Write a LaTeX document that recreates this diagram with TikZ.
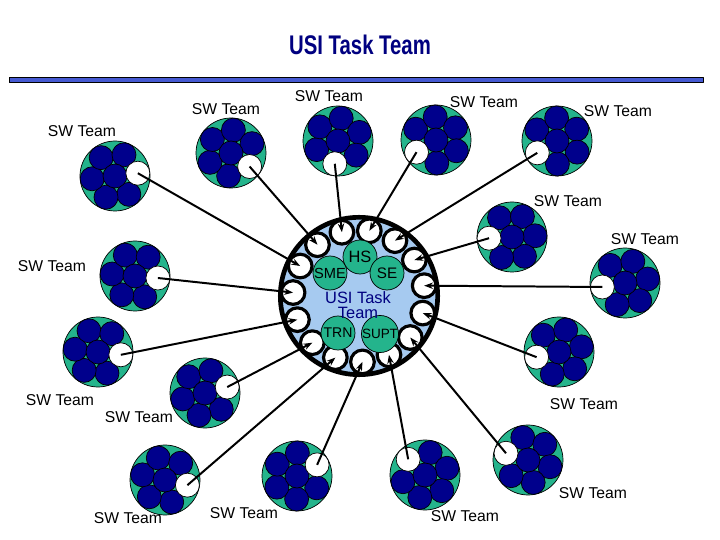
\documentclass[tikz,border=0pt]{standalone}
\usepackage{fontspec}
\setmainfont{Liberation Sans}
\usepackage{graphicx}
\usetikzlibrary{arrows.meta}
\definecolor{teamgreen}{RGB}{36,180,140}
\definecolor{teamblue}{RGB}{0,0,140}
\definecolor{hubblue}{RGB}{166,202,240}
\definecolor{titleblue}{RGB}{0,0,128}
\definecolor{barblue}{RGB}{70,90,210}
\tikzset{teamring/.style={draw=black,line width=0.6pt,fill=teamgreen},
  member/.style={draw=black,line width=0.6pt,fill=teamblue},
  slot/.style={circle,draw=black,line width=0.6pt,fill=white,minimum size=0.72cm,inner sep=0pt},
  hubslot/.style={circle,draw=black,line width=2.7pt,fill=white,minimum size=0.71cm,inner sep=0pt},
  unit/.style={circle,draw=black,line width=0.6pt,fill=teamgreen,minimum size=1.02cm,inner sep=0pt,font=\fontsize{12}{12}\selectfont},
  lbl/.style={inner sep=0pt,font=\fontsize{13.4}{14}\selectfont},
  link/.style={-{Stealth[length=7.5pt,width=5.5pt]},line width=1.7pt}}
% one SW team: name, x, y, angle of the empty place
\newcommand\swteam[4]{%
  \draw[teamring] (#2,#3) circle (35);
  \foreach \a in {60,120,...,300} \draw[member] ([shift={(#4+\a:23)}]#2,#3) circle (12);
  \draw[member] (#2,#3) circle (12);
  \node[slot] (#1) at ([shift={(#4:23)}]#2,#3) {};}

\begin{document}
\begin{tikzpicture}[x=0.03cm,y=-0.03cm,line join=round]
\useasboundingbox (0,0) rectangle (720,540);
% --- title
\node[text=titleblue,font=\fontsize{23}{23}\selectfont\bfseries,inner sep=0pt] (title) at (360,45) {\scalebox{0.755}[1]{USI Task Team}};
\draw[fill=barblue,line width=0.8pt] (9,77.8) rectangle (703,82.8);
% --- the SW teams round the hub
\swteam{t1}{115}{176}{-7}    \node[lbl] (l1) at (82,131) {SW Team};
\swteam{t2}{231}{153}{36}    \node[lbl] (l2) at (226,109) {SW Team};
\swteam{t3}{338}{141}{98}    \node[lbl] (l3) at (329,96) {SW Team};
\swteam{t4}{436}{140}{148}   \node[lbl] (l4) at (484,102) {SW Team};
\swteam{t5}{557}{141}{149}   \node[lbl] (l5) at (618,111) {SW Team};
\swteam{t6}{512}{237}{177}   \node[lbl] (l6) at (568,201) {SW Team};
\swteam{t7}{625}{283}{170}   \node[lbl] (l7) at (645,239) {SW Team};
\swteam{t8}{559}{352}{167}   \node[lbl] (l8) at (584,404) {SW Team};
\swteam{t9}{528}{460}{197}   \node[lbl] (l9) at (593,493) {SW Team};
\swteam{t10}{425}{475}{223}  \node[lbl] (l10) at (465,516) {SW Team};
\swteam{t11}{297}{476}{-29}  \node[lbl] (l11) at (244,513) {SW Team};
\swteam{t12}{165}{480}{13}   \node[lbl] (l12) at (128,518) {SW Team};
\swteam{t13}{205}{393}{-15}  \node[lbl] (l13) at (139,417) {SW Team};
\swteam{t14}{98}{352}{7}     \node[lbl] (l14) at (60,400) {SW Team};
\swteam{t15}{135}{276}{5}    \node[lbl] (l15) at (52,266) {SW Team};
% --- hub
\node[circle,draw=black,line width=4pt,fill=hubblue,minimum size=4.72cm,inner sep=0pt] (hub) at (359,296) {};
\foreach \i in {1,...,15} \node[hubslot] (h\i) at ([shift={(183+24*\i:66)}]hub.center) {};
\node[unit,font=\fontsize{14}{14}\selectfont] (hs) at (360,257) {HS};
\node[unit,font=\fontsize{12.5}{13}\selectfont] (sme) at (330,273) {SME};
\node[unit,font=\fontsize{13}{13}\selectfont] (se) at (387,273) {SE};
\node[unit] (trn) at (338,333) {TRN};
\node[unit,font=\fontsize{11.5}{12}\selectfont] (supt) at (380,334) {SUPT};
\node[text=titleblue,align=center,inner sep=0pt,font=\fontsize{14}{12.5}\selectfont] (usi) at (358,305) {USI Task\\Team};
% --- links from each team to its place on the hub
\foreach \i in {1,...,15} \draw[link] (t\i.center) -- (h\i.center);
\end{tikzpicture}
\end{document}
